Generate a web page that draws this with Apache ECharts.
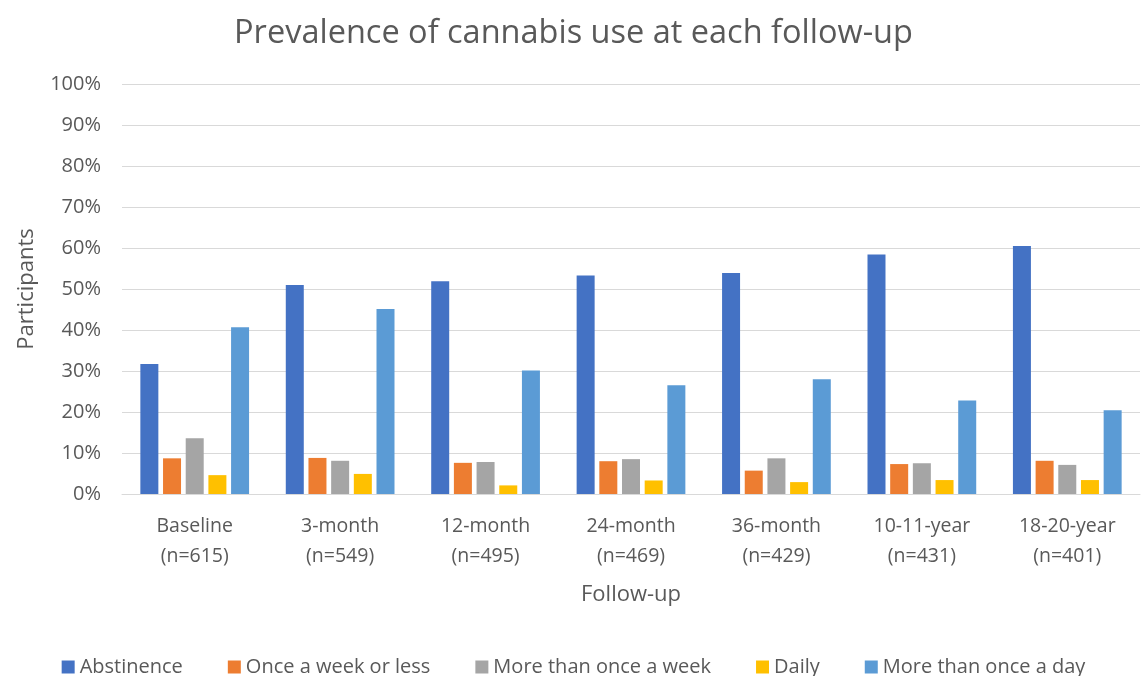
<!DOCTYPE html>
<html><head><meta charset="utf-8">
<script src="https://cdn.jsdelivr.net/npm/echarts@6/dist/echarts.min.js"></script>
<style>html,body{margin:0;padding:0;background:#fff}#c{width:1147px;height:676px}</style>
</head><body><div id="c"></div>
<script>
const categories = ['Baseline\n(n=615)','3-month\n(n=549)','12-month\n(n=495)','24-month\n(n=469)','36-month\n(n=429)','10-11-year\n(n=431)','18-20-year\n(n=401)'];
const abstinence = [31.7, 51.0, 51.9, 53.3, 53.9, 58.4, 60.5];
const onceWeekOrLess = [8.7, 8.8, 7.6, 8.0, 5.7, 7.3, 8.1];
const moreThanOnceWeek = [13.6, 8.1, 7.8, 8.5, 8.7, 7.5, 7.1];
const daily = [4.6, 4.9, 2.1, 3.3, 2.9, 3.4, 3.4];
const moreThanOnceDay = [40.7, 45.1, 30.1, 26.5, 28.0, 22.8, 20.4];
const seriesNames = ['Abstinence','Once a week or less','More than once a week','Daily','More than once a day'];
const colors = ['#4472C4','#ED7D31','#A5A5A5','#FFC000','#5B9BD5'];
const FONT = 'Open Sans';
const TXT = '#595959';
const chart = echarts.init(document.getElementById('c'));
const data = [abstinence, onceWeekOrLess, moreThanOnceWeek, daily, moreThanOnceDay];
chart.setOption({
  animation:false,
  color: colors,
  title:{text:'Prevalence of cannabis use at each follow-up', left:'center', top:12,
    textStyle:{fontFamily:FONT, fontSize:32.5, fontWeight:'normal', color:TXT}},
  legend:{top:652, left:'center', itemWidth:13, itemHeight:13, itemGap:45,
    icon:'rect', textStyle:{fontFamily:FONT, fontSize:20, color:TXT}},
  grid:{left:122, right:7, top:84, bottom:182},
  xAxis:{type:'category', data:categories,
    name:'Follow-up', nameLocation:'middle', nameGap:90,
    nameTextStyle:{fontFamily:FONT, fontSize:22, color:TXT},
    axisLine:{lineStyle:{color:'#d9d9d9', width:1}}, axisTick:{show:false},
    axisLabel:{fontFamily:FONT, fontSize:19.5, color:TXT, lineHeight:30, margin:17}},
  yAxis:{type:'value', min:0, max:100, interval:10,
    name:'Participants', nameLocation:'middle', nameGap:84,
    nameTextStyle:{fontFamily:FONT, fontSize:22, color:TXT},
    axisLabel:{formatter:'{value}%', fontFamily:FONT, fontSize:20, color:TXT, margin:21},
    splitLine:{lineStyle:{color:'#d9d9d9', width:1}}},
  series: seriesNames.map((n,i)=>({name:n, type:'bar', data:data[i], barWidth:18, barGap:'26%'}))
});
</script></body></html>
